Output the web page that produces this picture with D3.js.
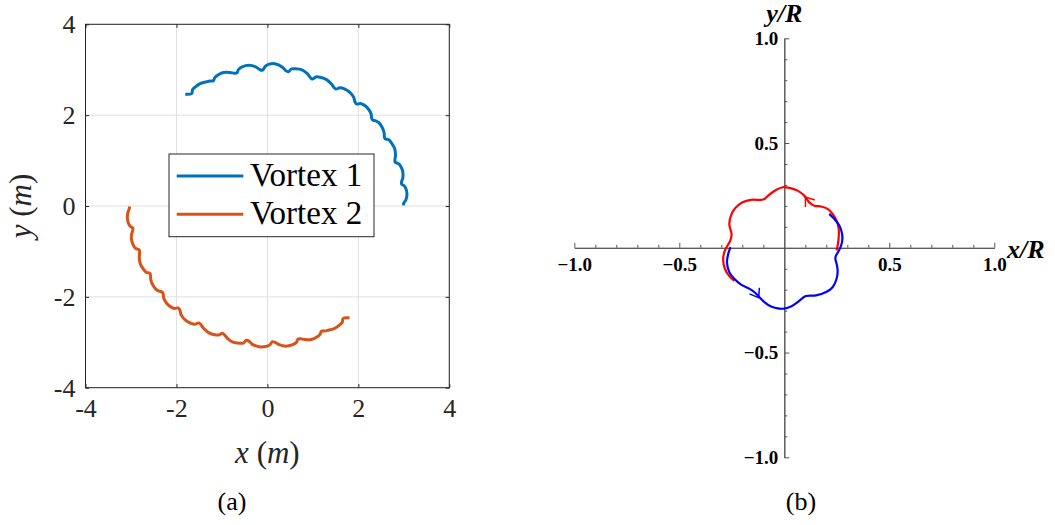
<!DOCTYPE html>
<html><head><meta charset="utf-8">
<script src="https://cdn.jsdelivr.net/npm/d3@7"></script>
<style>body{margin:0;background:#fff}svg{display:block}</style>
</head><body>
<svg id="chart" width="1055" height="525"></svg>
<script>
// ================= DATA =================
// Panel (a): tick values
const leftTicks = [-4, -2, 0, 2, 4];
const leftTickLabels = ["-4", "-2", "0", "2", "4"];
const seriesNames = ["Vortex 1", "Vortex 2"];
// Panel (a): trajectories, as [polar angle (deg), radius (m)]
const vortex1 = [
  [126.3,3.05],[123.9,2.98],
  [122.8,3.04],[121.3,3.06],[118.6,3.07],[115.9,3.04],[114.4,3.02],[113.3,3.00],
  [112.3,3.05],[110.7,3.08],[108.2,3.09],[105.6,3.05],[104.0,3.01],[103.0,3.00],
  [101.9,3.07],[100.3,3.11],[97.5,3.12],[94.8,3.07],[93.1,3.00],[92.0,2.99],
  [90.9,3.07],[89.3,3.12],[86.6,3.13],[83.8,3.07],[82.2,3.00],[81.1,2.99],
  [80.0,3.06],[78.5,3.08],[75.8,3.09],[73.2,3.04],[71.6,2.98],[70.5,2.96],
  [69.4,3.03],[67.8,3.06],[65.1,3.07],[62.3,3.03],[60.7,2.99],[59.6,2.98],
  [58.5,3.05],[56.9,3.08],[54.2,3.09],[51.5,3.05],[49.9,2.99],[48.8,2.98],
  [47.8,3.04],[46.4,3.07],[44.0,3.08],[41.6,3.05],[40.2,3.00],[39.2,2.99],
  [38.2,3.03],[36.8,3.06],[34.5,3.06],[32.1,3.03],[30.7,2.99],[29.7,2.98],
  [28.6,3.04],[27.0,3.06],[24.3,3.07],[21.6,3.03],[20.0,2.985],[18.9,2.97],
  [17.9,3.03],[16.5,3.06],[14.1,3.07],[11.7,3.04],[10.3,3.00],[9.3,2.99],
  [8.4,3.04],[7.1,3.07],[4.8,3.08],[2.6,3.05],[1.2,3.00],[0.3,2.99]
];
const vortex2 = [
  [306.3,3.05],[303.9,2.98],
  [302.8,3.04],[301.3,3.06],[298.6,3.07],[295.9,3.04],[294.4,3.02],[293.3,3.00],
  [292.3,3.05],[290.7,3.08],[288.2,3.09],[285.6,3.05],[284.0,3.01],[283.0,3.00],
  [281.9,3.07],[280.3,3.10],[277.5,3.11],[274.8,3.06],[273.1,3.00],[272.0,2.99],
  [270.9,3.06],[269.3,3.09],[266.6,3.10],[263.8,3.06],[262.2,3.00],[261.1,2.99],
  [260.0,3.06],[258.5,3.08],[255.8,3.09],[253.2,3.04],[251.6,2.985],[250.5,2.97],
  [249.4,3.03],[247.8,3.06],[245.1,3.07],[242.3,3.03],[240.7,2.99],[239.6,2.98],
  [238.5,3.05],[236.9,3.08],[234.2,3.09],[231.5,3.05],[229.9,2.99],[228.8,2.98],
  [227.8,3.04],[226.4,3.07],[224.0,3.08],[221.6,3.05],[220.2,3.00],[219.2,2.99],
  [218.2,3.03],[216.8,3.06],[214.5,3.06],[212.1,3.03],[210.7,2.99],[209.7,2.98],
  [208.6,3.04],[207.0,3.06],[204.3,3.07],[201.6,3.03],[200.0,2.99],[198.9,2.98],
  [197.9,3.04],[196.5,3.07],[194.1,3.08],[191.7,3.05],[190.3,3.01],[189.3,3.00],
  [188.4,3.05],[187.1,3.08],[184.8,3.09],[182.6,3.07],[181.2,3.04],[180.2,3.03]
];

// Panel (b): ticks
const rightMajorTicks = [-1, -0.5, 0.5, 1];
const rightTickLabels = ["\u22121.0", "\u22120.5", "0.5", "1.0"];
const rightMinorTicks = [-0.9,-0.8,-0.7,-0.6,-0.4,-0.3,-0.2,-0.1,0.1,0.2,0.3,0.4,0.6,0.7,0.8,0.9];
// Panel (b): curves (x/R, y/R)
const redX = [0.249,0.254,0.259,0.259,0.249,0.230,0.206,0.175,0.143,0.119,0.095,0.063,0.024,-0.008,-0.040,-0.071,-0.095,-0.111,-0.159,-0.199,-0.230,-0.251,-0.262,-0.251,-0.257,-0.270,-0.286,-0.291,-0.283,-0.262,-0.237];
const redY = [-0.013,0.011,0.050,0.090,0.130,0.162,0.186,0.197,0.201,0.217,0.249,0.273,0.286,0.289,0.276,0.254,0.233,0.229,0.229,0.217,0.193,0.162,0.114,0.064,0.035,0.011,-0.021,-0.060,-0.100,-0.135,-0.158];
const blueX = [-0.256,-0.267,-0.273,-0.262,-0.238,-0.206,-0.167,-0.143,-0.119,-0.095,-0.063,-0.024,0.000,0.032,0.063,0.087,0.103,0.151,0.199,0.230,0.249,0.254,0.249,0.243,0.246,0.262,0.275,0.275,0.262,0.238,0.214];
const blueY = [0.003,-0.029,-0.069,-0.116,-0.148,-0.176,-0.195,-0.211,-0.235,-0.259,-0.280,-0.290,-0.290,-0.280,-0.259,-0.240,-0.230,-0.227,-0.211,-0.188,-0.148,-0.108,-0.076,-0.052,-0.037,-0.010,0.027,0.067,0.106,0.138,0.162];
// arrowheads: tip position (x/R, y/R) and heading (deg, screen orientation)
const arrowX = [0.100, -0.122];
const arrowY = [0.242, -0.238];
const arrowHeading = [-127, 58];

// ================= STYLE =================
const colV = ["#0072BD", "#D95319"];
const colR = ["#ff0000", "#0000ff"];
const axisCol = "#262626";
const gridCol = "#dfdfdf";
const serif = "'Liberation Serif','Times New Roman',serif";

const svg = d3.select("#chart");

// ================= PANEL (a) =================
const xA = d3.scaleLinear().domain([-4, 4]).range([85.5, 449.3]);
const yA = d3.scaleLinear().domain([-4, 4]).range([387.7, 24.3]);
const rA = d3.scaleLinear().domain([0, 4]).range([0, xA(4) - xA(0)]);
const angA = d3.scaleLinear().domain([0, 90]).range([Math.PI / 2, 0]);

const gA = svg.append("g");
// grid
gA.append("g").selectAll("line").data(leftTicks).join("line")
  .attr("x1", d => xA(d)).attr("x2", d => xA(d)).attr("y1", yA(-4)).attr("y2", yA(4))
  .attr("stroke", gridCol).attr("stroke-width", 1);
gA.append("g").selectAll("line").data(leftTicks).join("line")
  .attr("y1", d => yA(d)).attr("y2", d => yA(d)).attr("x1", xA(-4)).attr("x2", xA(4))
  .attr("stroke", gridCol).attr("stroke-width", 1);

// curves
const radial = d3.lineRadial()
  .angle(d => angA(d[0])).radius(d => rA(d[1]))
  .curve(d3.curveCatmullRom.alpha(0.5));
const gCurves = gA.append("g").attr("transform", `translate(${xA(0)},${yA(0)})`);
[vortex1, vortex2].forEach((s, i) => {
  gCurves.append("path").attr("d", radial(s)).attr("fill", "none")
    .attr("stroke", colV[i]).attr("stroke-width", 3).attr("stroke-linejoin", "round");
});

// axes (ticks inward)
const fmtA = d => leftTickLabels[leftTicks.indexOf(d)];
const axB = gA.append("g").attr("transform", `translate(0,${yA(-4)})`)
  .call(d3.axisBottom(xA).tickValues(leftTicks).tickSize(-3.6).tickPadding(10).tickFormat(fmtA));
const axL = gA.append("g").attr("transform", `translate(${xA(-4)},0)`)
  .call(d3.axisLeft(yA).tickValues(leftTicks).tickSize(-3.6).tickPadding(10).tickFormat(fmtA));
const axT = gA.append("g").attr("transform", `translate(0,${yA(4)})`)
  .call(d3.axisTop(xA).tickValues(leftTicks).tickSize(-3.6).tickFormat(""));
const axR = gA.append("g").attr("transform", `translate(${xA(4)},0)`)
  .call(d3.axisRight(yA).tickValues(leftTicks).tickSize(-3.6).tickFormat(""));
[axB, axL, axT, axR].forEach(a => {
  a.attr("font-family", serif).attr("font-size", 26);
  a.select(".domain").remove();
  a.selectAll(".tick line").attr("stroke", axisCol);
  a.selectAll("text").attr("font-family", serif).attr("font-size", 26).attr("fill", "#262626");
});
axB.selectAll("text").attr("y", 11);
axL.selectAll("text").attr("x", -10);
gA.append("rect").attr("x", xA(-4)).attr("y", yA(4)).attr("width", xA(4) - xA(-4)).attr("height", yA(-4) - yA(4))
  .attr("fill", "none").attr("stroke", axisCol).attr("stroke-width", 1);

// axis labels
const xl = gA.append("text").attr("x", xA(0)).attr("y", 463).attr("text-anchor", "middle")
  .attr("font-family", serif).attr("font-size", 31).attr("fill", "#262626");
xl.append("tspan").attr("font-style", "italic").text("x");
xl.append("tspan").text(" (");
xl.append("tspan").attr("font-style", "italic").text("m");
xl.append("tspan").text(")");
const yl = gA.append("text").attr("transform", `translate(31,${yA(0)}) rotate(-90)`).attr("text-anchor", "middle")
  .attr("font-family", serif).attr("font-size", 31).attr("fill", "#262626");
yl.append("tspan").attr("font-style", "italic").text("y");
yl.append("tspan").text(" (");
yl.append("tspan").attr("font-style", "italic").text("m");
yl.append("tspan").text(")");

// legend
const lg = gA.append("g");
lg.append("rect").attr("x", 169).attr("y", 154).attr("width", 205).attr("height", 82.7)
  .attr("fill", "#fff").attr("stroke", axisCol).attr("stroke-width", 1);
seriesNames.forEach((n, i) => {
  const yy = 176 + i * 38.3;
  lg.append("line").attr("x1", 176.7).attr("x2", 243.3).attr("y1", yy).attr("y2", yy)
    .attr("stroke", colV[i]).attr("stroke-width", 3);
  lg.append("text").attr("x", 250).attr("y", yy + 10).attr("font-family", serif).attr("font-size", 33)
    .attr("fill", "#000").text(n);
});
svg.append("text").attr("x", 232).attr("y", 510).attr("text-anchor", "middle")
  .attr("font-family", serif).attr("font-size", 26).text("(a)");

// ================= PANEL (b) =================
const xB = d3.scaleLinear().domain([-1, 1]).range([574.3, 994.3]);
const yB = d3.scaleLinear().domain([-1, 1]).range([457.3, 38.3]);
const gB = svg.append("g");
const axGray = "#555";

const bx1 = gB.append("g").attr("transform", `translate(0,${yB(0)})`)
  .call(d3.axisBottom(xB).tickValues(rightMinorTicks).tickSize(-3).tickSizeOuter(0).tickFormat(""));
const bx2 = gB.append("g").attr("transform", `translate(0,${yB(0)})`)
  .call(d3.axisBottom(xB).tickValues(rightMajorTicks).tickSize(-5).tickSizeOuter(0)
    .tickFormat(d => rightTickLabels[rightMajorTicks.indexOf(d)]));
const by1 = gB.append("g").attr("transform", `translate(${xB(0)},0)`)
  .call(d3.axisLeft(yB).tickValues(rightMinorTicks).tickSize(-3).tickSizeOuter(0).tickFormat(""));
const by2 = gB.append("g").attr("transform", `translate(${xB(0)},0)`)
  .call(d3.axisLeft(yB).tickValues(rightMajorTicks).tickSize(-5).tickSizeOuter(0)
    .tickFormat(d => rightTickLabels[rightMajorTicks.indexOf(d)]));
[bx1, bx2, by1, by2].forEach(a => {
  a.attr("font-family", serif).attr("font-size", 19);
  a.select(".domain").attr("stroke", axGray).attr("stroke-width", 1);
  a.selectAll(".tick line").attr("stroke", axGray);
  a.selectAll("text").attr("font-family", serif).attr("font-weight", "bold").attr("font-size", 19).attr("fill", "#000");
});
bx2.selectAll("text").attr("y", 10);
by2.selectAll("text").attr("x", -6);

// curves
const lineB = d3.line().x(d => xB(d[0])).y(d => yB(d[1])).curve(d3.curveCatmullRom.alpha(0.5));
const redPts = redX.map((x, i) => [x, redY[i]]);
const bluePts = blueX.map((x, i) => [x, blueY[i]]);
[redPts, bluePts].forEach((p, i) => {
  gB.append("path").attr("d", lineB(p)).attr("fill", "none").attr("stroke", colR[i])
    .attr("stroke-width", 2.2).attr("stroke-linejoin", "round");
});
// arrowheads
arrowX.forEach((ax, i) => {
  const px = xB(ax), py = yB(arrowY[i]);
  const h = arrowHeading[i] * Math.PI / 180, L = 10, half = 36 * Math.PI / 180;
  const w1 = [px - L * Math.cos(h - half), py - L * Math.sin(h - half)];
  const w2 = [px - L * Math.cos(h + half), py - L * Math.sin(h + half)];
  gB.append("path").attr("d", `M${w1[0]},${w1[1]}L${px},${py}L${w2[0]},${w2[1]}`)
    .attr("fill", "none").attr("stroke", colR[i]).attr("stroke-width", 1.5);
});

// axis labels
gB.append("text").attr("x", xB(0)).attr("y", 22).attr("text-anchor", "middle")
  .attr("font-family", serif).attr("font-size", 26).attr("font-style", "italic").attr("font-weight", "bold")
  .text("y/R");
gB.append("text").attr("x", 1007).attr("y", 258)
  .attr("font-family", serif).attr("font-size", 26).attr("font-style", "italic").attr("font-weight", "bold")
  .text("x/R");
svg.append("text").attr("x", 801).attr("y", 510).attr("text-anchor", "middle")
  .attr("font-family", serif).attr("font-size", 26).text("(b)");
</script>
</body></html>
